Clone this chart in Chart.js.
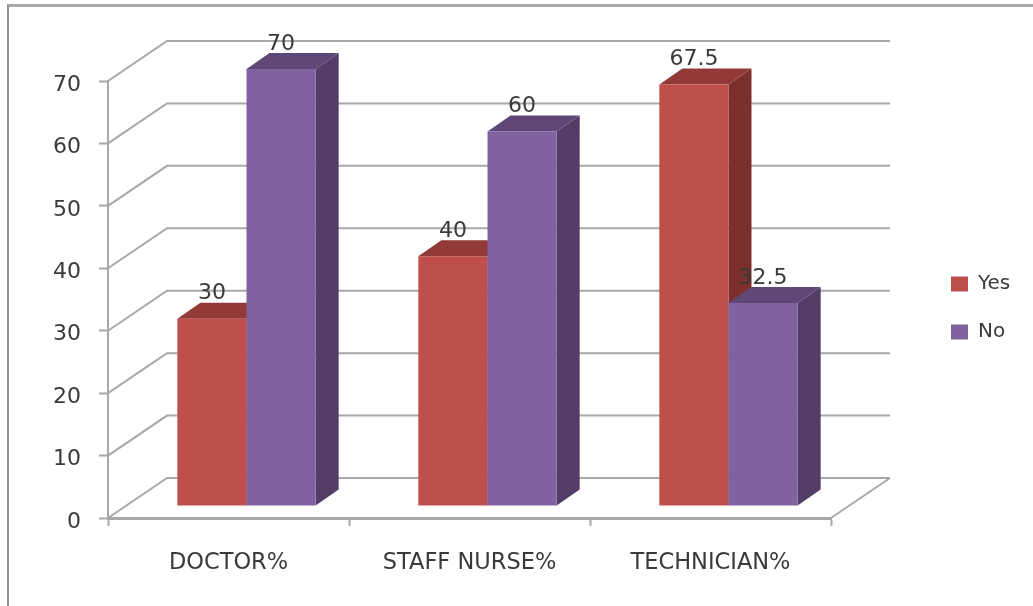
<!DOCTYPE html>
<html>
<head>
<meta charset="utf-8">
<style>
  html, body { margin: 0; background: #fff; overflow: hidden; }
  #wrap { position: relative; width: 1033px; height: 606px; }
  #frame { position: absolute; left: 7px; top: 4px; right: 0; bottom: 0; border-top: 3px solid #a8a8a8; border-left: 2px solid #8f8f8f; }
  canvas { position: absolute; left: 0; top: 0; }
</style>
<script src="https://cdn.jsdelivr.net/npm/chart.js@4"></script>
</head>
<body>
<div id="wrap">
  <div id="frame"></div>
  <canvas id="staffChart" width="1033" height="606"></canvas>
</div>
<script>
const categories = ["DOCTOR%", "STAFF NURSE%", "TECHNICIAN%"];
const yesValues = [30, 40, 67.5];
const noValues = [70, 60, 32.5];

const yesColors = { front: "#be4f4b", top: "#913a37", side: "#7b302e" };
const noColors = { front: "#8062a1", top: "#5f4878", side: "#533d68" };
const gridColor = "#a8a8a8";
const textColor = "#3a3a3a";
const fontFamily = "'DejaVu Sans'";

// depth of the back wall, and how far the bars stand in from the front edge
const wallX = 59, wallY = 40;
const barShiftX = 18, barShiftY = 12;
const barDepthX = 23, barDepthY = 16;

// fake 3d: walls behind the bars, extruded faces and value labels
const box3d = {
  id: "box3d",
  afterLayout(chart) {
    const legend = chart.legend;
    legend.left = 923;
    legend.top = 246;
    legend.right = 1033;
    legend.bottom = 420;
  },
  beforeDatasetsDraw(chart) {
    const { ctx, chartArea, scales } = chart;
    ctx.save();
    ctx.strokeStyle = gridColor;
    ctx.lineWidth = 2;
    scales.y.ticks.forEach((tick) => {
      const y = scales.y.getPixelForValue(tick.value);
      ctx.beginPath();
      ctx.moveTo(chartArea.left, y);
      ctx.lineTo(chartArea.left + wallX, y - wallY);
      ctx.lineTo(chartArea.right + wallX, y - wallY);
      ctx.stroke();
    });
    ctx.beginPath();
    ctx.moveTo(chartArea.right, chartArea.bottom);
    ctx.lineTo(chartArea.right + wallX, chartArea.bottom - wallY);
    ctx.stroke();
    ctx.restore();

    // series left to right, so a "No" bar sits in front of the "Yes" side face
    ctx.save();
    ctx.translate(barShiftX, -barShiftY);
    chart.data.datasets.forEach((dataset, i) => {
      const colors = dataset.faces;
      chart.getDatasetMeta(i).data.forEach((bar) => {
        const left = bar.x - bar.width / 2;
        const right = bar.x + bar.width / 2;
        ctx.fillStyle = colors.side;
        ctx.beginPath();
        ctx.moveTo(right, bar.y);
        ctx.lineTo(right + barDepthX, bar.y - barDepthY);
        ctx.lineTo(right + barDepthX, bar.base - barDepthY);
        ctx.lineTo(right, bar.base);
        ctx.closePath();
        ctx.fill();
        ctx.fillStyle = colors.top;
        ctx.beginPath();
        ctx.moveTo(left, bar.y);
        ctx.lineTo(left + barDepthX, bar.y - barDepthY);
        ctx.lineTo(right + barDepthX, bar.y - barDepthY);
        ctx.lineTo(right, bar.y);
        ctx.closePath();
        ctx.fill();
        bar.draw(ctx);
      });
    });
    ctx.restore();
  },
  // the bars are already painted above, in series order
  beforeDatasetDraw() {
    return false;
  },
  afterDatasetsDraw(chart) {
    const { ctx } = chart;
    ctx.save();
    ctx.fillStyle = textColor;
    ctx.font = "22px " + fontFamily;
    ctx.textAlign = "center";
    ctx.textBaseline = "middle";
    chart.data.datasets.forEach((dataset, i) => {
      chart.getDatasetMeta(i).data.forEach((bar, j) => {
        ctx.fillText(String(dataset.data[j]), bar.x + barShiftX, bar.y - barShiftY - 25);
      });
    });
    ctx.restore();
  },
};

new Chart(document.getElementById("staffChart"), {
  type: "bar",
  data: {
    labels: categories,
    datasets: [
      { label: "Yes", data: yesValues, backgroundColor: yesColors.front, faces: yesColors },
      { label: "No", data: noValues, backgroundColor: noColors.front, faces: noColors },
    ],
  },
  options: {
    responsive: false,
    animation: false,
    layout: { padding: { top: 81, right: 202, bottom: 0, left: 0 } },
    datasets: { bar: { categoryPercentage: 0.574, barPercentage: 1 } },
    scales: {
      x: {
        afterFit(scale) { scale.height = 88; },
        grid: { offset: true, drawOnChartArea: false, tickLength: 8, tickColor: gridColor, tickWidth: 2 },
        border: { color: gridColor, width: 3 },
        ticks: { color: textColor, padding: 24, font: { family: fontFamily, size: 22.5 }, maxRotation: 0 },
      },
      y: {
        min: 0,
        max: 70,
        afterFit(scale) { scale.width = 108; },
        grid: { drawOnChartArea: false, tickLength: 9, tickColor: gridColor, tickWidth: 2 },
        border: { color: gridColor, width: 2 },
        ticks: { stepSize: 10, color: textColor, padding: 18, labelOffset: 4, font: { family: fontFamily, size: 22 } },
      },
    },
    plugins: {
      legend: {
        position: "chartArea",
        align: "start",
        labels: { boxWidth: 17, boxHeight: 15, padding: 28, color: textColor, font: { family: fontFamily, size: 20 } },
      },
      tooltip: { enabled: false },
    },
  },
  plugins: [box3d],
});
</script>
</body>
</html>
